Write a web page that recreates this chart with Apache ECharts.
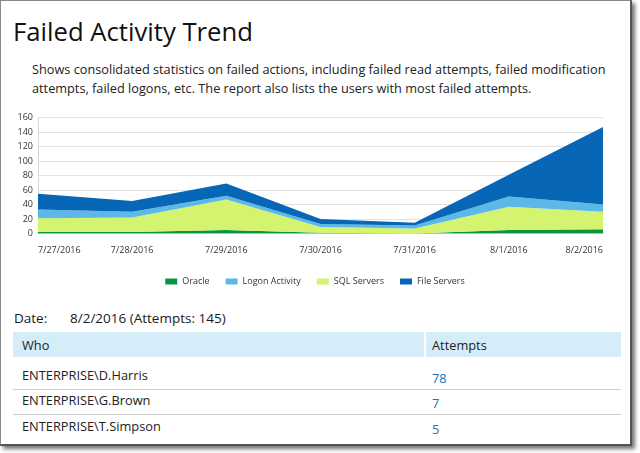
<!DOCTYPE html>
<html>
<head>
<meta charset="utf-8">
<script src="https://cdn.jsdelivr.net/npm/echarts@6/dist/echarts.min.js"></script>
<style>
  html, body { margin: 0; padding: 0; background: #fff; width: 640px; height: 453px; overflow: hidden; font-family: "Open Sans", "Noto Sans", sans-serif; }
  #panel { position: absolute; left: 0; top: 0; width: 629px; height: 443px; border: 1px solid #8a8a8a; border-right: 2px solid #555; border-bottom: 2px solid #555; box-shadow: 3px 3px 4px rgba(0,0,0,0.55); background: #fff; }
  .t { position: absolute; white-space: nowrap; color: #1a1a1a; }
  #title { left: 13px; top: 13px; font-size: 26px; color: #111; transform-origin: 0 0; }
  #desc { left: 32px; top: 60px; font-size: 13.5px; line-height: 19px; color: #222; transform-origin: 0 0; transform: scaleX(0.94); }
  #chart { position: absolute; left: 0; top: 100px; width: 630px; height: 200px; }
  .cell { position: absolute; font-size: 12.8px; color: #222; }
  .hdr { position: absolute; top: 332px; height: 25px; background: #d5edf8; }
  .sep { position: absolute; left: 13px; width: 608px; height: 1px; background: #d0d0d0; }
  .num { color: #1f6fc0; }
</style>
</head>
<body>
<div id="panel"></div>
<div id="title" class="t"><span id="titleSpan">Failed Activity Trend</span></div>
<div id="desc" class="t"><span id="line1">Shows consolidated statistics on failed actions, including failed read attempts, failed modification</span><br><span>attempts, failed logons, etc. The report also lists the users with most failed attempts.</span></div>
<div id="chart"></div>
<div class="t" style="left:14px; top:309px; font-size:13.5px;">Date:</div>
<div class="t" style="left:70px; top:309px; font-size:13.5px;">8/2/2016 (Attempts: 145)</div>
<div class="hdr" style="left:13px; width:411px;"></div>
<div class="hdr" style="left:426px; width:195px;"></div>
<div class="cell" style="left:22px; top:336px;">Who</div>
<div class="cell" style="left:432px; top:336px;">Attempts</div>
<div class="cell" style="left:22px; top:366px;">ENTERPRISE\D.Harris</div>
<div class="cell num" style="left:432px; top:369px;">78</div>
<div class="sep" style="top:389px;"></div>
<div class="cell" style="left:22px; top:391px;">ENTERPRISE\G.Brown</div>
<div class="cell num" style="left:432px; top:394px;">7</div>
<div class="sep" style="top:414px;"></div>
<div class="cell" style="left:22px; top:417px;">ENTERPRISE\T.Simpson</div>
<div class="cell num" style="left:432px; top:420px;">5</div>
<script>
const categories = ['7/27/2016', '7/28/2016', '7/29/2016', '7/30/2016', '7/31/2016', '8/1/2016', '8/2/2016'];
const oracle = [2, 2, 5, 1, 0, 5, 6];
const sqlServers = [19, 20, 42, 8, 7, 32, 24];
const logonActivity = [12, 8, 5, 4, 4, 14, 10];
const fileServers = [22, 15, 17, 7, 4, 30, 107];
const yTicks = { min: 0, max: 160, interval: 20 };

const colors = { oracle: '#0b9444', logon: '#5cb8e6', sql: '#d4f46f', file: '#0767b6' };

// fit header texts horizontally to the reference widths
function fit() {
  const w1 = document.getElementById('line1').getBoundingClientRect().width;
  const d = document.getElementById('desc');
  if (w1 > 0) {
    const cur = d.getBoundingClientRect().width / (d.offsetWidth || 1);
    const natural = w1 / (cur || 1);
    d.style.transform = 'scaleX(' + (573 / natural) + ')';
  }
  const t = document.getElementById('title');
  t.style.transform = 'none';
  const wt = document.getElementById('titleSpan').getBoundingClientRect().width;
  if (wt > 0) t.style.transform = 'scaleX(' + (240 / wt) + ')';
}
fit();
if (document.fonts && document.fonts.ready) document.fonts.ready.then(fit);

function areaSeries(name, data, color) {
  return {
    name: name, type: 'line', stack: 'total', data: data,
    symbol: 'none', smooth: false,
    lineStyle: { width: 0, color: color },
    itemStyle: { color: color },
    areaStyle: { color: color, opacity: 1 }
  };
}

const chart = echarts.init(document.getElementById('chart'), null, { renderer: 'canvas' });
chart.setOption({
  animation: false,
  textStyle: { fontFamily: '"Open Sans", "Noto Sans", sans-serif' },
  grid: { left: 38, right: 27, top: 17.5, bottom: 66.5, containLabel: false },
  legend: {
    data: ['Oracle', 'Logon Activity', 'SQL Servers', 'File Servers'],
    top: 172, left: 'center',
    icon: 'rect', itemWidth: 12, itemHeight: 6, itemGap: 16,
    textStyle: { fontSize: 9, color: '#333' }
  },
  xAxis: {
    type: 'category', data: categories, boundaryGap: false,
    axisLine: { show: true, lineStyle: { color: '#d9d9d9' } },
    axisTick: { show: false },
    axisLabel: { fontSize: 9, color: '#333', margin: 12, alignMinLabel: 'left', alignMaxLabel: 'right', interval: 0 },
    splitLine: { show: false }
  },
  yAxis: {
    type: 'value', min: yTicks.min, max: yTicks.max, interval: yTicks.interval,
    axisLine: { show: true, lineStyle: { color: '#d9d9d9' } },
    axisTick: { show: false },
    axisLabel: { fontSize: 9, color: '#333', margin: 5 },
    splitLine: { lineStyle: { color: '#e3e3e3' } }
  },
  series: [
    areaSeries('Oracle', oracle, colors.oracle),
    areaSeries('SQL Servers', sqlServers, colors.sql),
    areaSeries('Logon Activity', logonActivity, colors.logon),
    areaSeries('File Servers', fileServers, colors.file)
  ]
});
</script>
</body>
</html>
